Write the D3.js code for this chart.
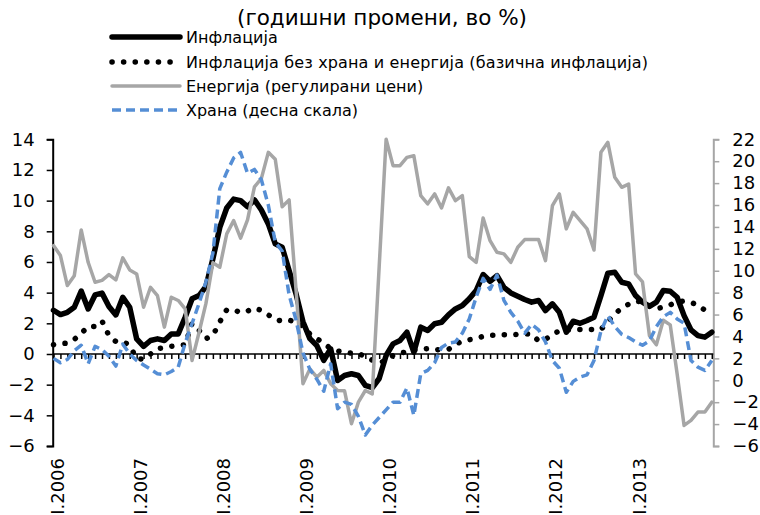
<!DOCTYPE html>
<html>
<head>
<meta charset="utf-8">
<script src="https://cdn.jsdelivr.net/npm/d3@7"></script>
<style>
  body { margin: 0; background: #fff; }
  svg { font-family: "DejaVu Sans", sans-serif; }
</style>
</head>
<body>
<div id="chart"></div>
<script>
const width = 760, height = 515

// monthly categories, Jan 2006 - Dec 2013
const months = d3.range(96).map(i => (2006 + Math.floor(i / 12)) + "-" + (i % 12 + 1))
const yearTicks = ["2006-1", "2007-1", "2008-1", "2009-1", "2010-1", "2011-1", "2012-1", "2013-1"]
const yearLabels = ["I.2006", "I.2007", "I.2008", "I.2009", "I.2010", "I.2011", "I.2012", "I.2013"]
const leftTicks = [-6, -4, -2, 0, 2, 4, 6, 8, 10, 12, 14]
const rightTicks = [-6, -4, -2, 0, 2, 4, 6, 8, 10, 12, 14, 16, 18, 20, 22]

const inflation = [
  2.85, 2.57, 2.72, 3.05, 4.1, 2.94, 3.85, 3.97, 3.1, 2.55, 3.7, 3.05,
  0.99, 0.5, 0.88, 0.99, 0.88, 1.31, 1.31, 2.4, 3.6, 3.81, 4.4, 6.2,
  8.26, 9.52, 10.1, 10.0, 9.6, 10.05, 9.39, 8.48, 7.18, 6.96, 5.44, 3.92,
  2.1, 1.0, 0.55, -0.42, 0.34, -1.73, -1.4, -1.29, -1.4, -2.05, -2.2, -1.6,
  -0.1, 0.66, 0.88, 1.42, 0.12, 1.75, 1.53, 1.97, 2.07, 2.55, 2.94, 3.16,
  3.6, 4.14, 5.18, 4.74, 5.11, 4.35, 3.98, 3.77, 3.55, 3.38, 3.49, 2.83,
  3.27, 2.72, 1.42, 2.14, 2.0, 2.18, 2.4, 3.81, 5.27, 5.33, 4.68, 4.57,
  3.81, 3.38, 3.1, 3.38, 4.14, 4.09, 3.7, 2.5, 1.57, 1.2, 1.1, 1.42
]
const core = [
  0.6, 0.68, 0.7, 0.95, 1.35, 1.79, 1.79, 2.15, 1.2, 0.81, 0.83, 0.55,
  -0.3, -0.35, 0.0, 0.35, 0.4, 0.5, 0.55, 0.6, 2.0, 1.55, 1.0, 1.2,
  2.1, 2.88, 2.88, 2.7, 2.8, 3.0, 2.85, 2.55, 2.25, 2.14, 2.2, 2.1,
  1.8, 1.3, 1.0, 0.7, 0.35, 0.2, 0.1, 0.05, 0.05, -0.2, -0.4, -0.6,
  -0.4, -0.1, 0.05, 0.15, 0.25, 0.3, 0.35, 0.25, 0.3, 0.3, 0.62, 0.85,
  0.93, 1.0, 1.15, 1.22, 1.22, 1.25, 1.25, 1.28, 1.32, 1.3, 0.85, 0.95,
  1.3, 1.5, 1.55, 1.6, 1.6, 1.6, 1.6, 1.6, 2.1, 2.6, 3.0, 3.25,
  3.45, 3.4, 3.15, 2.95, 3.05, 3.2, 3.4, 3.45, 3.35, 3.2, 2.85, 2.7
]
const energy = [
  7.07, 6.42, 4.46, 5.11, 8.09, 5.98, 4.68, 4.8, 5.18, 4.83, 6.27, 5.48,
  5.22, 3.05, 4.35, 3.81, 1.75, 3.7, 3.49, 2.94, -0.42, 1.4, 3.3, 5.95,
  5.66, 7.83, 8.7, 7.55, 8.75, 10.9, 11.45, 13.15, 12.7, 9.6, 10.05, 4.2,
  -1.94, -0.97, -1.51, -1.07, -1.94, -2.38, -2.4, -4.55, -3.14, -2.38, -2.6, 5.7,
  14.0, 12.28, 12.28, 12.82, 12.93, 10.33, 9.79, 10.44, 9.52, 10.83, 10.0, 10.33,
  6.35, 5.98, 8.87, 7.39, 6.63, 6.53, 5.98, 6.96, 7.46, 7.46, 7.46, 6.09,
  9.67, 10.44, 8.16, 9.24, 8.7, 8.16, 6.78, 13.15, 13.8, 11.52, 10.87, 11.08,
  5.22, 4.7, 1.2, 0.6, 2.2, 1.9, -1.3, -4.66, -4.33, -3.79, -3.79, -3.14
]
// food is plotted against the right-hand scale
const food = [
  2.0, 1.6, 1.9, 2.7, 3.2, 1.5, 3.1, 2.8, 2.2, 1.3, 3.3, 2.4,
  1.8, 1.4, 1.0, 0.6, 0.5, 0.8, 1.2, 3.4, 5.2, 7.0, 9.0, 11.6,
  17.5, 19.0, 20.3, 20.8, 18.9, 19.25, 18.3, 16.0, 12.6, 11.8, 7.8, 5.5,
  2.5, 1.0, 0.1, -1.0, 1.5, -2.6, -2.0, -2.2, -3.3, -5.0, -4.1, -3.4,
  -2.7, -2.0, -2.0, -0.7, -3.2, 0.6, 0.9, 1.6, 3.0, 3.4, 3.5, 4.3,
  5.6, 7.6, 9.3, 8.3, 9.6, 7.3, 6.2, 5.4, 4.3, 5.1, 4.6, 3.5,
  1.8, 1.1, -1.1, -0.1, 0.3, 0.5, 1.8, 4.5, 5.9, 4.9, 4.2, 3.9,
  3.5, 3.2, 3.6, 4.9, 5.8, 6.2, 5.6, 5.2, 1.8, 1.2, 0.9, 1.8
]

const names = [
  "Инфлација",
  "Инфлација без храна и енергија (базична инфлација)",
  "Енергија (регулирани цени)",
  "Храна (десна скала)"
]

let svg = d3.select("#chart").append("svg")
    .attr("width", width)
    .attr("height", height)

let x = d3.scalePoint().domain(months).range([53.5, 711.8])
let yL = d3.scaleLinear().domain([-6, 14]).range([446, 139.3])
let yR = d3.scaleLinear().domain([-6, 22]).range([446, 139.3])

// styles for each series, same order as names
const series = [
  {values: inflation, y: yL, stroke: "#000", width: 5.5, dash: null, cap: "round"},
  {values: core, y: yL, stroke: "#000", width: 5.5, dash: "0.1 11.5", cap: "round"},
  {values: energy, y: yL, stroke: "#a6a6a6", width: 3.5, dash: null, cap: "round"},
  {values: food, y: yR, stroke: "#558ed5", width: 3.5, dash: "9 5", cap: "butt"}
]

svg.append("defs").append("clipPath")
    .attr("id", "plot-clip")
    .append("rect")
    .attr("x", 50).attr("y", 137)
    .attr("width", 666).attr("height", 312)

// subtitle
svg.append("text")
    .attr("x", 382).attr("y", 25)
    .attr("text-anchor", "middle")
    .attr("font-size", 21)
    .attr("textLength", 290)
    .attr("lengthAdjust", "spacingAndGlyphs")
    .text("(годишни промени, во %)")

// left axis
let gLeft = svg.append("g")
    .attr("transform", "translate(52.7,0)")
    .call(d3.axisLeft(yL).tickValues(leftTicks).tickSize(6).tickPadding(12))
gLeft.select(".domain").attr("stroke-width", 2)
gLeft.selectAll(".tick line").attr("stroke-width", 1.5)
gLeft.selectAll("text").attr("font-size", 18).attr("font-family", "DejaVu Sans").attr("fill", "#000")

// right axis
let gRight = svg.append("g")
    .attr("transform", "translate(713.3,0)")
    .call(d3.axisRight(yR).tickValues(rightTicks).tickSize(6).tickPadding(13))
gRight.select(".domain").attr("stroke", "#a6a6a6").attr("stroke-width", 2)
gRight.selectAll(".tick line").attr("stroke", "#a6a6a6").attr("stroke-width", 1.5)
gRight.selectAll("text").attr("font-size", 18).attr("font-family", "DejaVu Sans").attr("fill", "#000")

// horizontal category axis at zero, monthly ticks
let gBottom = svg.append("g")
    .attr("transform", "translate(0," + yL(0) + ")")
    .call(d3.axisBottom(x).tickSize(5).tickFormat(""))
gBottom.select(".domain").attr("d", "M52.7,0H713.3").attr("stroke-width", 1.5)
gBottom.selectAll(".tick line").attr("stroke-width", 1.5)

// year labels, rotated
svg.append("g")
    .selectAll("text")
    .data(yearTicks)
    .join("text")
    .attr("transform", d => "translate(" + (x(d) + 10) + ",458) rotate(-90)")
    .attr("text-anchor", "end")
    .attr("font-size", 18)
    .text((d, i) => yearLabels[i])

// lines
let gLines = svg.append("g").attr("clip-path", "url(#plot-clip)")
series.forEach(s => {
    let line = d3.line()
        .x((d, i) => x(months[i]))
        .y(d => s.y(d))
    gLines.append("path")
        .datum(s.values)
        .attr("d", line)
        .attr("fill", "none")
        .attr("stroke", s.stroke)
        .attr("stroke-width", s.width)
        .attr("stroke-linejoin", "round")
        .attr("stroke-linecap", s.cap)
        .attr("stroke-dasharray", s.dash)
})

// legend
const legendY = [37, 62, 86, 110]
const legendLen = [null, 462, null, null]
let legend = svg.append("g")
series.forEach((s, i) => {
    legend.append("line")
        .attr("x1", 112).attr("x2", 180)
        .attr("y1", legendY[i]).attr("y2", legendY[i])
        .attr("stroke", s.stroke)
        .attr("stroke-width", s.width)
        .attr("stroke-linecap", s.cap)
        .attr("stroke-dasharray", s.dash)
    legend.append("text")
        .attr("x", 186).attr("y", legendY[i])
        .attr("dy", "0.35em")
        .attr("font-size", 16)
        .attr("textLength", legendLen[i])
        .text(names[i])
})
</script>
</body>
</html>
